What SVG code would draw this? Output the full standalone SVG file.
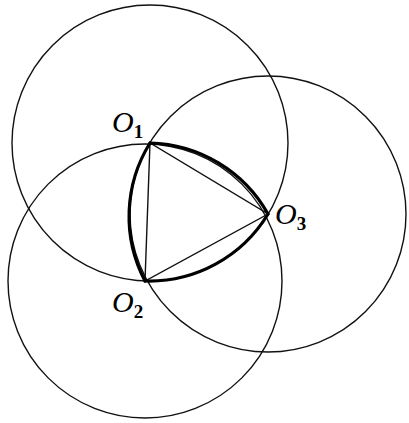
<svg xmlns="http://www.w3.org/2000/svg" width="409" height="423" viewBox="0 0 409 423">
<style>
.c{fill:none;stroke:#111;stroke-width:1.4}
.t{fill:none;stroke:#111;stroke-width:1.4}
.b{fill:none;stroke:#000;stroke-width:3.2;stroke-linecap:round}
.l{font-family:"Liberation Serif","DejaVu Serif",serif;font-style:italic;font-size:30px;fill:#000}
.s{font-family:"Liberation Serif","DejaVu Serif",serif;font-style:normal;font-weight:bold;font-size:19px}
</style>
<rect width="409" height="423" fill="#fff"/>
<g id="connectors">
<circle id="circle1" class="c" cx="150" cy="143" r="138"/>
<circle id="circle2" class="c" cx="145" cy="281" r="137"/>
<circle id="circle3" class="c" cx="268" cy="214" r="138"/>
<polygon class="t" points="150,143 145,281 268,214"/>
<path class="b" d="M150,143 A139,139 0 0 0 145,281"/>
<path class="b" d="M150,143 A139,139 0 0 1 268,214"/>
<path class="b" d="M145,281 A139,139 0 0 0 268,214"/>
</g>
<g id="O1"><text class="l" x="112" y="132">O<tspan class="s" dy="6">1</tspan></text></g>
<g id="O2"><text class="l" x="112" y="312">O<tspan class="s" dy="6">2</tspan></text></g>
<g id="O3"><text class="l" x="275" y="224">O<tspan class="s" dy="6">3</tspan></text></g>
</svg>
